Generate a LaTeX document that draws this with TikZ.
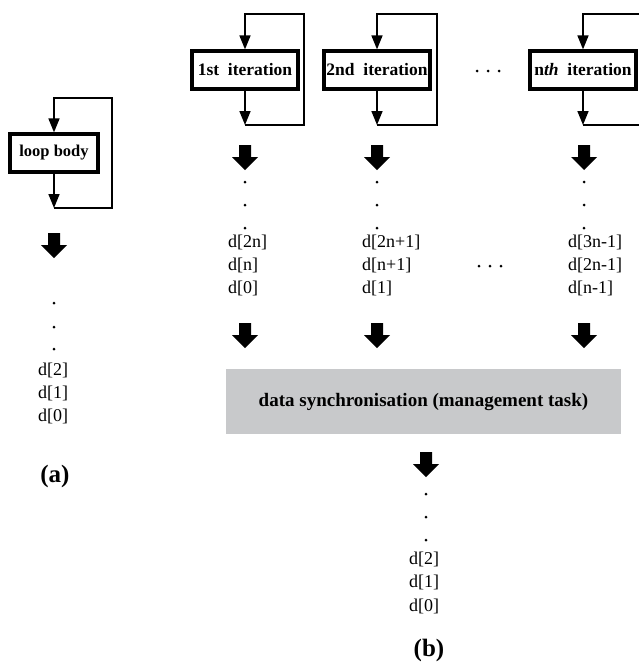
\documentclass[tikz,border=0pt]{standalone}
\usepackage{fontspec}
\setmainfont{Liberation Serif}
\usetikzlibrary{arrows.meta}
\definecolor{syncgray}{RGB}{200,201,203}
\tikzset{
  itbox/.style={draw, line width=3.2pt, fill=white, minimum width=106pt, minimum height=38pt, inner sep=0pt, font=\fontsize{17.5}{20}\selectfont\bfseries},
  loopline/.style={line width=1.6pt},
  arr/.style={loopline, -{Triangle[length=14pt,width=11pt]}},
  dtext/.style={anchor=west, inner sep=0pt, font=\fontsize{18}{20}\selectfont},
  caption/.style={inner sep=0pt, font=\fontsize{25}{28}\selectfont\bfseries},
  fatarrow/.pic={\fill (-6,0) -- (6,0) -- (6,12) -- (13,12) -- (0,25) -- (-13,12) -- (-6,12) -- cycle;},
  dot/.style={circle, fill, inner sep=0pt, minimum size=3pt}
}
\begin{document}
\begin{tikzpicture}[x=1pt,y=-1pt]
\useasboundingbox (0,0) rectangle (639,662);

% ---------- (a) ----------
\node[itbox, minimum width=88pt, font=\fontsize{16.5}{20}\selectfont\bfseries] (lb) at (54,153) {loop body};
\coordinate (lbB) at (54,208);
\coordinate (lbBR) at (112,208);
\coordinate (lbTR) at (112,98);
\coordinate (lbT) at (54,98);
\draw[arr] (lb.south) -- (lbB);
\draw[arr] (lbB) -- (lbBR) -- (lbTR) -- (lbT) -- (lb.north);
\pic at (54,233) {fatarrow};
\node[dot] (ad1) at (54,303) {};
\node[dot] (ad2) at (54,327) {};
\node[dot] (ad3) at (54,349) {};
\node[dtext] (a2) at (38,370) {d[2]};
\node[dtext] (a1) at (38,393) {d[1]};
\node[dtext] (a0) at (38,416) {d[0]};
\node[caption] (capa) at (55,476) {(a)};

% ---------- (b) iteration boxes ----------
\foreach \n/\cx/\rx/\txt in {i1/245/304/{1st\ \ iteration}, i2/377/437/{2nd\ \ iteration}, i3/583/645/{n\textit{th}\ \ iteration}}{
  \node[itbox] (\n) at (\cx,70) {\txt};
  \coordinate (\n B) at (\cx,125);
  \coordinate (\n BR) at (\rx,125);
  \coordinate (\n TR) at (\rx,14);
  \coordinate (\n T) at (\cx,14);
  \draw[arr] (\n.south) -- (\n B);
  \draw[arr] (\n B) -- (\n BR) -- (\n TR) -- (\n T) -- (\n.north);
}
\node[dot] (e1) at (477,71) {};
\node[dot] (e2) at (488,71) {};
\node[dot] (e3) at (499,71) {};

% ---------- (b) data columns ----------
\foreach \cx in {245,377,584}{
  \pic at (\cx,145) {fatarrow};
  \node[dot] at (\cx,182) {};
  \node[dot] at (\cx,205) {};
  \node[dot] at (\cx,228) {};
  \pic at (\cx,323) {fatarrow};
}
\node[dtext] (c1a) at (228,242) {d[2n]};
\node[dtext] (c1b) at (228,265) {d[n]};
\node[dtext] (c1c) at (228,288) {d[0]};
\node[dtext] (c2a) at (362,242) {d[2n+1]};
\node[dtext] (c2b) at (362,265) {d[n+1]};
\node[dtext] (c2c) at (362,288) {d[1]};
\node[dtext] (c3a) at (568,242) {d[3n-1]};
\node[dtext] (c3b) at (568,265) {d[2n-1]};
\node[dtext] (c3c) at (568,288) {d[n-1]};
\node[dot] (f1) at (479,266) {};
\node[dot] (f2) at (490,266) {};
\node[dot] (f3) at (501,266) {};

% ---------- synchronisation ----------
\node[fill=syncgray, minimum width=395pt, minimum height=65pt, inner sep=0pt, font=\fontsize{19}{22}\selectfont\bfseries] (sync) at (423.5,401.5) {data synchronisation (management task)};
\pic at (426,452) {fatarrow};
\node[dot] (bd1) at (426,494) {};
\node[dot] (bd2) at (426,517) {};
\node[dot] (bd3) at (426,540) {};
\node[dtext] (b2) at (409,559) {d[2]};
\node[dtext] (b1) at (409,582) {d[1]};
\node[dtext] (b0) at (409,606) {d[0]};
\node[caption] (capb) at (429,650) {(b)};
\end{tikzpicture}
\end{document}
